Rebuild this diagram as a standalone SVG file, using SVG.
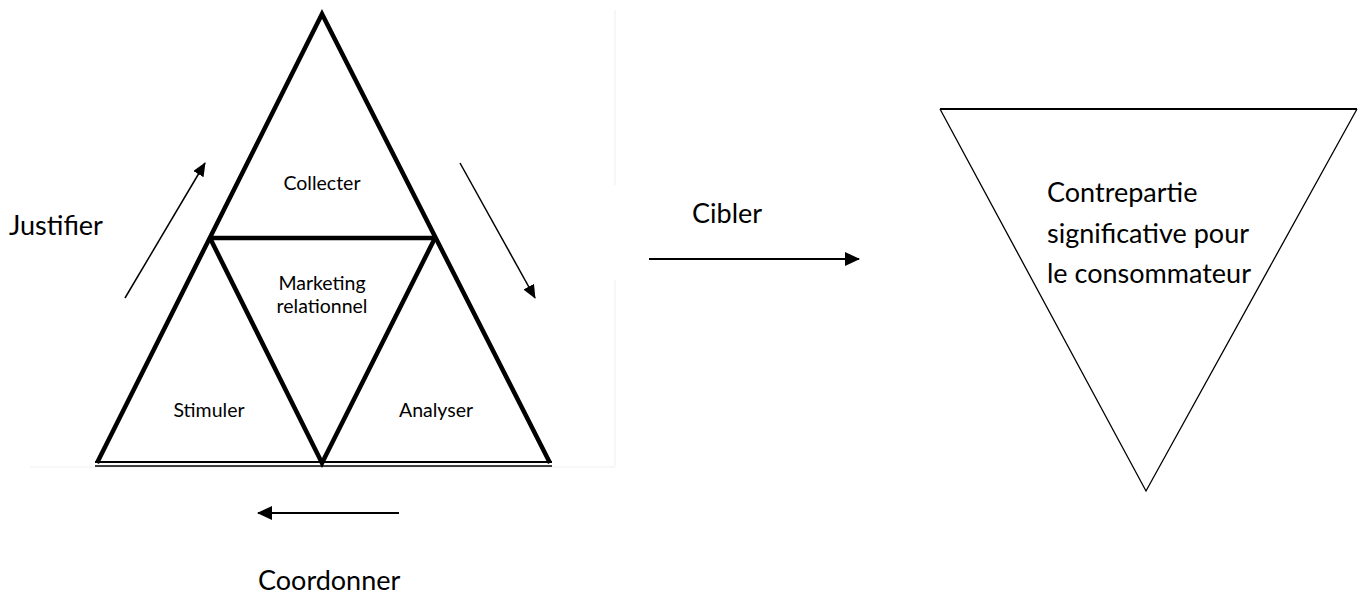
<svg xmlns="http://www.w3.org/2000/svg" width="1366" height="595" viewBox="0 0 1366 595">
  <defs>
    <style>
      .lbl { font-family: Lato, "Liberation Sans", sans-serif; fill: #000; }
      .big { font-size: 27px; }
      .small { font-size: 19.5px; }
      .thick { stroke: #000; stroke-width: 4.5; fill: none; stroke-linejoin: miter; stroke-miterlimit: 10; }
      .thin { stroke: #000; stroke-width: 1.5; fill: none; }
      .bold { stroke: #000; stroke-width: 2; fill: none; }
      .frame { stroke: #efefef; stroke-width: 1; fill: none; }
    </style>
    <!-- small head for the diagonal arrows -->
    <marker id="headS" viewBox="0 0 14 12" refX="13" refY="6" markerWidth="14" markerHeight="12" markerUnits="userSpaceOnUse" orient="auto">
      <path d="M0,0 L14,6 L0,12 Z" fill="#000"/>
    </marker>
    <!-- larger head for the horizontal arrows -->
    <marker id="headL" viewBox="0 0 15 14" refX="14" refY="7" markerWidth="15" markerHeight="14" markerUnits="userSpaceOnUse" orient="auto">
      <path d="M0,0 L15,7 L0,14 Z" fill="#000"/>
    </marker>
  </defs>
  <rect width="1366" height="595" fill="#fff"/>

  <!-- canvas frame -->
  <g id="frame">
    <line class="frame" x1="615" y1="10" x2="615" y2="185"/>
    <line class="frame" x1="615" y1="280" x2="615" y2="466"/>
    <line class="frame" x1="30" y1="467" x2="615" y2="467"/>
  </g>

  <!-- pyramid -->
  <g id="pyramid">
    <path class="thick" d="M97,463 L322,14 L550,463"/>
    <line class="thick" x1="210" y1="238" x2="435" y2="238"/>
    <polyline class="thick" points="210,238 322,463 435,238"/>
    <line stroke="#000" stroke-width="2.2" x1="95" y1="462" x2="552" y2="462"/>
    <line stroke="#000" stroke-width="1.6" x1="95" y1="466" x2="552" y2="466"/>
  </g>

  <g id="collecter"><text class="lbl small" x="322" y="190" text-anchor="middle">Collecter</text></g>
  <g id="marketing">
    <text class="lbl small" x="322" y="290" text-anchor="middle">Marketing</text>
    <text class="lbl small" x="322" y="313" text-anchor="middle">relationnel</text>
  </g>
  <g id="stimuler"><text class="lbl small" x="209" y="416.5" text-anchor="middle">Stimuler</text></g>
  <g id="analyser"><text class="lbl small" x="436" y="416.5" text-anchor="middle">Analyser</text></g>

  <!-- target -->
  <g id="contrepartie">
    <polyline points="940,109 1146,491 1357,109" fill="none" stroke="#000" stroke-width="1.3"/>
    <line x1="940" y1="109" x2="1357" y2="109" stroke="#000" stroke-width="2"/>
    <text class="lbl big" x="1047" y="202">Contrepartie</text>
    <text class="lbl big" x="1047" y="243">significative pour</text>
    <text class="lbl big" x="1047" y="283">le consommateur</text>
  </g>

  <!-- connectors -->
  <g id="connectors">
    <line class="thin" x1="125" y1="298" x2="205" y2="163" marker-end="url(#headS)"/>
    <line class="thin" x1="460" y1="163" x2="535" y2="298" marker-end="url(#headS)"/>
    <line class="bold" x1="399" y1="513" x2="258" y2="513" marker-end="url(#headL)"/>
    <line class="bold" x1="649" y1="259" x2="859" y2="259" marker-end="url(#headL)"/>
  </g>

  <g id="labels">
    <text class="lbl big" x="9" y="235">Justifier</text>
    <text class="lbl big" x="692" y="223">Cibler</text>
    <text class="lbl big" x="258" y="590">Coordonner</text>
  </g>
</svg>
